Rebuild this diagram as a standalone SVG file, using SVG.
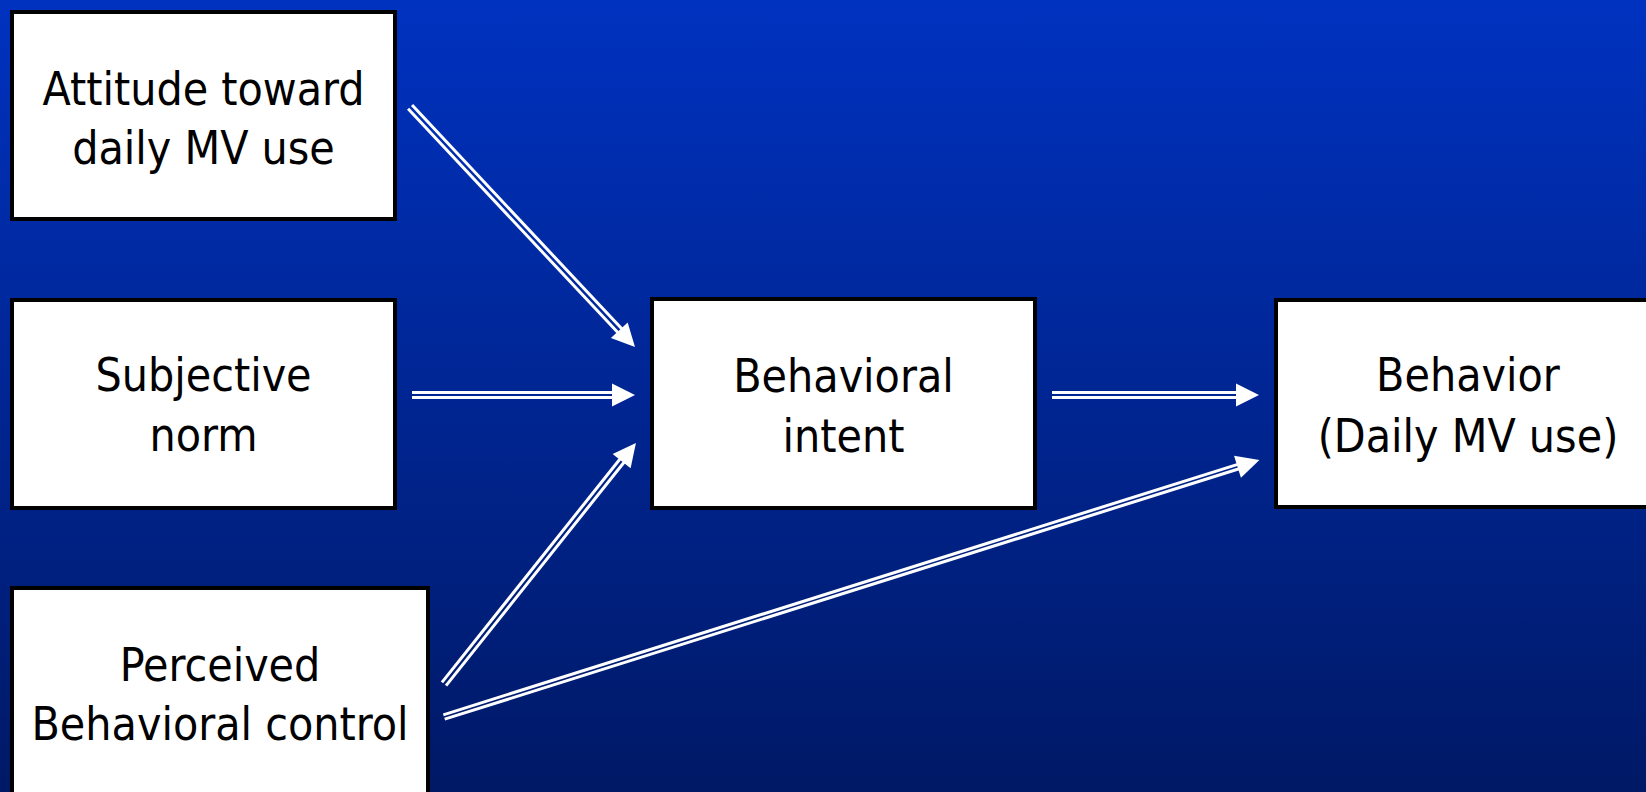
<svg xmlns="http://www.w3.org/2000/svg" width="1646" height="792" viewBox="0 0 1646 792">
  <defs>
    <linearGradient id="bg" x1="0" y1="0" x2="0" y2="1">
      <stop offset="0" stop-color="#0032C0"/>
      <stop offset="1" stop-color="#001966"/>
    </linearGradient>
    <style>
      .box { fill: #ffffff; stroke: #000000; stroke-width: 4; }
      .lbl { font-family: 'DejaVu Sans Condensed', 'DejaVu Sans', 'Liberation Sans', sans-serif; font-stretch: condensed; font-size: 46px; fill: #000000; text-anchor: middle; }
      .shaft { stroke: #ffffff; stroke-width: 3; fill: none; }
      .head { fill: #ffffff; stroke: none; }
    </style>
  </defs>
  <rect x="0" y="0" width="1646" height="792" fill="url(#bg)"/>

  <g id="node-attitude">
    <rect class="box" x="12" y="12" width="383" height="207"/>
    <text class="lbl" x="203.5" y="105">Attitude toward</text>
    <text class="lbl" x="203.5" y="164">daily MV use</text>
  </g>
  <g id="node-norm">
    <rect class="box" x="12" y="300" width="383" height="208"/>
    <text class="lbl" x="203.5" y="391">Subjective</text>
    <text class="lbl" x="203.5" y="451">norm</text>
  </g>
  <g id="node-control">
    <rect class="box" x="12" y="588" width="416" height="220"/>
    <text class="lbl" x="220" y="681">Perceived</text>
    <text class="lbl" x="220" y="740">Behavioral control</text>
  </g>
  <g id="node-intent">
    <rect class="box" x="652" y="299" width="383" height="209"/>
    <text class="lbl" x="843.5" y="392">Behavioral</text>
    <text class="lbl" x="843.5" y="452">intent</text>
  </g>
  <g id="node-behavior">
    <rect class="box" x="1276" y="300" width="390" height="207"/>
    <text class="lbl" x="1468" y="391">Behavior</text>
    <text class="lbl" x="1468" y="452">(Daily MV use)</text>
  </g>

  <g id="connectors">
    <g transform="translate(410,107) rotate(46.85)">
      <path class="shaft" d="M0,-2.8 H307 M0,2.6 H307" stroke-width="3.4"/>
      <polygon class="head" points="306,-11.5 329,0 306,11.5"/>
    </g>
    <g transform="translate(412,395)">
      <path class="shaft" d="M0,-2.6 H201 M0,2.6 H201"/>
      <polygon class="head" points="200,-11.5 223,0 200,11.5"/>
    </g>
    <g transform="translate(1052,395)">
      <path class="shaft" d="M0,-2.6 H185 M0,2.6 H185"/>
      <polygon class="head" points="184,-11.5 207,0 184,11.5"/>
    </g>
    <g transform="translate(444,684) rotate(-51.45)">
      <path class="shaft" d="M0,-2.6 H286 M0,2.6 H286"/>
      <polygon class="head" points="285,-11.5 308,0 285,11.5"/>
    </g>
    <g transform="translate(444,717) rotate(-17.5)">
      <path class="shaft" d="M0,-2.3 H833 M0,2.3 H833" stroke-width="2.4"/>
      <polygon class="head" points="832,-11.5 855,0 832,11.5"/>
    </g>
  </g>
</svg>
